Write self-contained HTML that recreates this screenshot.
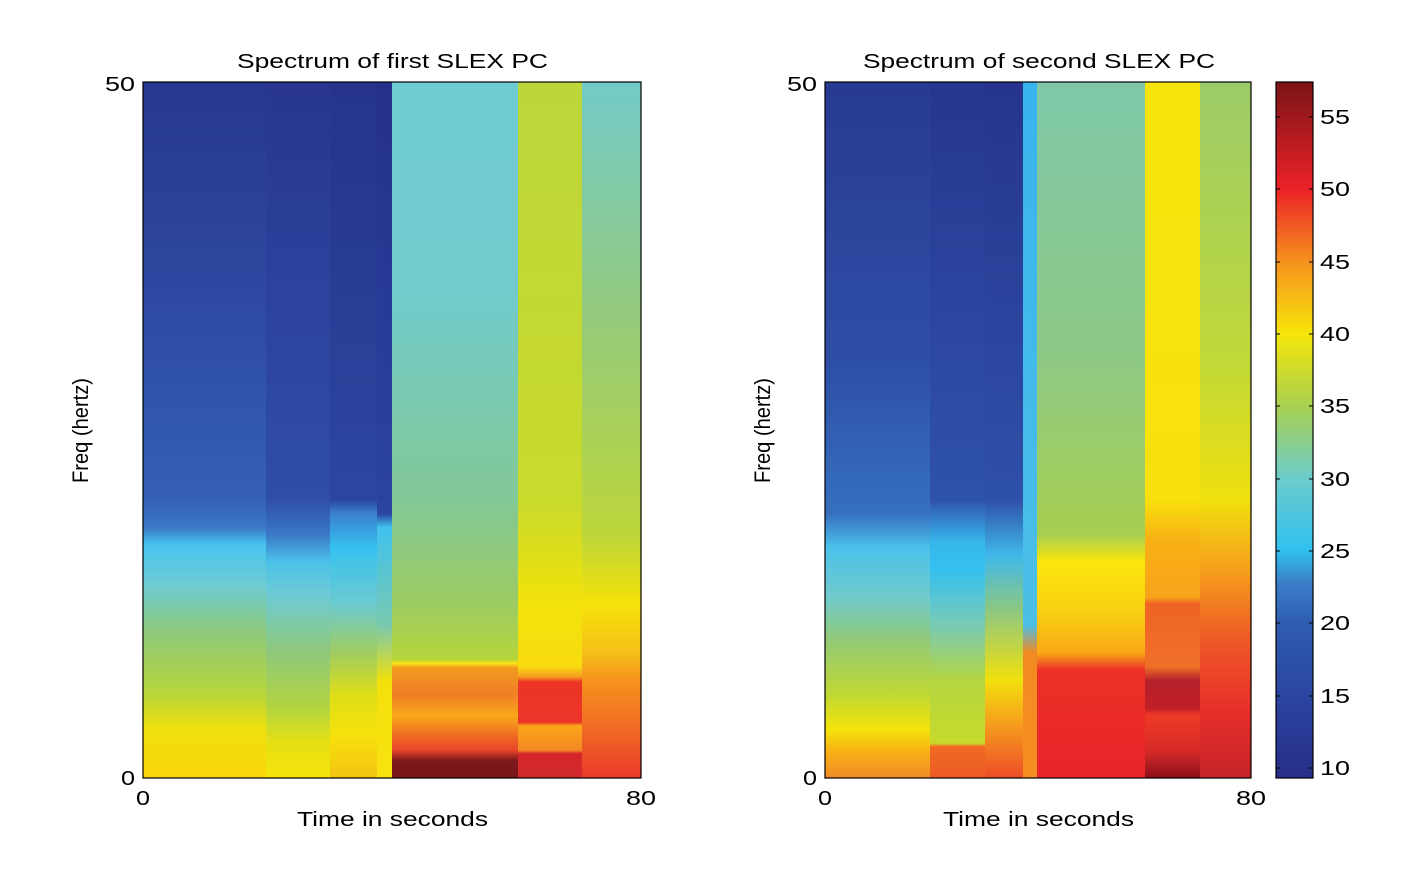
<!DOCTYPE html>
<html><head><meta charset="utf-8"><style>
html,body{margin:0;padding:0;background:#fff;}
svg text{font-family:"Liberation Sans",Arial,sans-serif;fill:#000;}
</style></head><body>
<svg width="1418" height="870" viewBox="0 0 1418 870" xmlns="http://www.w3.org/2000/svg">
<defs>
<linearGradient id="LA" gradientUnits="userSpaceOnUse" x1="0" y1="82" x2="0" y2="778">
<stop offset="0" stop-color="#283890"/><stop offset="0.3" stop-color="#2d48a0"/><stop offset="0.6" stop-color="#3560b4"/>
<stop offset="0.64" stop-color="#3a78c6"/><stop offset="0.665" stop-color="#48c4ee"/><stop offset="0.72" stop-color="#6ccbd6"/>
<stop offset="0.79" stop-color="#8dc97a"/><stop offset="0.88" stop-color="#b8d63a"/><stop offset="0.93" stop-color="#f0e00c"/><stop offset="1" stop-color="#f8d60c"/></linearGradient>
<linearGradient id="LB" gradientUnits="userSpaceOnUse" x1="0" y1="82" x2="0" y2="778">
<stop offset="0" stop-color="#283690"/><stop offset="0.6" stop-color="#2f4ea8"/><stop offset="0.65" stop-color="#3a78c6"/>
<stop offset="0.69" stop-color="#4cc2ea"/><stop offset="0.74" stop-color="#6fcbd2"/><stop offset="0.82" stop-color="#8fc87a"/>
<stop offset="0.9" stop-color="#b4d540"/><stop offset="0.95" stop-color="#e6e014"/><stop offset="1" stop-color="#f6e40a"/></linearGradient>
<linearGradient id="LC" gradientUnits="userSpaceOnUse" x1="0" y1="82" x2="0" y2="778">
<stop offset="0" stop-color="#26348c"/><stop offset="0.6" stop-color="#2c46a0"/><stop offset="0.62" stop-color="#3a80cc"/>
<stop offset="0.67" stop-color="#36c2f0"/><stop offset="0.75" stop-color="#6ccad0"/><stop offset="0.82" stop-color="#a0cc60"/>
<stop offset="0.88" stop-color="#dede18"/><stop offset="0.94" stop-color="#f6e10c"/><stop offset="1" stop-color="#f4c412"/></linearGradient>
<linearGradient id="LD" gradientUnits="userSpaceOnUse" x1="0" y1="82" x2="0" y2="778">
<stop offset="0" stop-color="#24308a"/><stop offset="0.62" stop-color="#2a44a0"/><stop offset="0.64" stop-color="#40c2ee"/>
<stop offset="0.78" stop-color="#78c9b0"/><stop offset="0.86" stop-color="#f2e00c"/><stop offset="1" stop-color="#f8e210"/></linearGradient>
<linearGradient id="LE" gradientUnits="userSpaceOnUse" x1="0" y1="82" x2="0" y2="778">
<stop offset="0" stop-color="#6ecbd2"/><stop offset="0.3" stop-color="#70cbcc"/><stop offset="0.6" stop-color="#82c896"/>
<stop offset="0.75" stop-color="#9ccb62"/><stop offset="0.83" stop-color="#b6d63c"/><stop offset="0.835" stop-color="#fbe414"/>
<stop offset="0.842" stop-color="#f39a20"/><stop offset="0.88" stop-color="#ef7e26"/><stop offset="0.91" stop-color="#f9a91a"/>
<stop offset="0.94" stop-color="#f06a24"/><stop offset="0.96" stop-color="#e8442a"/><stop offset="0.975" stop-color="#7e181a"/><stop offset="1" stop-color="#7a1618"/></linearGradient>
<linearGradient id="LF" gradientUnits="userSpaceOnUse" x1="0" y1="82" x2="0" y2="778">
<stop offset="0" stop-color="#bcd63a"/><stop offset="0.6" stop-color="#c8da2c"/><stop offset="0.75" stop-color="#f2e20a"/>
<stop offset="0.84" stop-color="#f8dc10"/><stop offset="0.855" stop-color="#f39a1e"/><stop offset="0.862" stop-color="#ec3426"/>
<stop offset="0.92" stop-color="#ec3428"/><stop offset="0.925" stop-color="#f9a51a"/><stop offset="0.96" stop-color="#f38a22"/>
<stop offset="0.965" stop-color="#d6262a"/><stop offset="1" stop-color="#d02a2c"/></linearGradient>
<linearGradient id="LG" gradientUnits="userSpaceOnUse" x1="0" y1="82" x2="0" y2="778">
<stop offset="0" stop-color="#72cac8"/><stop offset="0.3" stop-color="#90c984"/><stop offset="0.65" stop-color="#bcd63a"/>
<stop offset="0.75" stop-color="#f6e20a"/><stop offset="0.82" stop-color="#f6c018"/><stop offset="0.86" stop-color="#f6921e"/>
<stop offset="0.93" stop-color="#f06a24"/><stop offset="1" stop-color="#ea3a2a"/></linearGradient>
<linearGradient id="RA" gradientUnits="userSpaceOnUse" x1="0" y1="82" x2="0" y2="778">
<stop offset="0" stop-color="#283a92"/><stop offset="0.4" stop-color="#2e4ea6"/><stop offset="0.62" stop-color="#3670bf"/>
<stop offset="0.67" stop-color="#4cc2ea"/><stop offset="0.74" stop-color="#70cbcc"/><stop offset="0.8" stop-color="#90c978"/>
<stop offset="0.88" stop-color="#c0d834"/><stop offset="0.93" stop-color="#f4e30a"/><stop offset="0.96" stop-color="#f8b414"/><stop offset="1" stop-color="#f08a26"/></linearGradient>
<linearGradient id="RB" gradientUnits="userSpaceOnUse" x1="0" y1="82" x2="0" y2="778">
<stop offset="0" stop-color="#273690"/><stop offset="0.6" stop-color="#2f52aa"/><stop offset="0.66" stop-color="#38b6ec"/>
<stop offset="0.7" stop-color="#34c0f0"/><stop offset="0.78" stop-color="#78cab6"/><stop offset="0.86" stop-color="#b4d640"/>
<stop offset="0.95" stop-color="#c8da2c"/><stop offset="0.955" stop-color="#f06a24"/><stop offset="1" stop-color="#ee5c26"/></linearGradient>
<linearGradient id="RC" gradientUnits="userSpaceOnUse" x1="0" y1="82" x2="0" y2="778">
<stop offset="0" stop-color="#26348e"/><stop offset="0.6" stop-color="#2e50a8"/><stop offset="0.68" stop-color="#40b8ea"/>
<stop offset="0.76" stop-color="#8ec880"/><stop offset="0.86" stop-color="#f2e00c"/><stop offset="0.92" stop-color="#f6a01c"/><stop offset="1" stop-color="#ec4c28"/></linearGradient>
<linearGradient id="RD" gradientUnits="userSpaceOnUse" x1="0" y1="82" x2="0" y2="778">
<stop offset="0" stop-color="#38b4ee"/><stop offset="0.78" stop-color="#4cbfe6"/><stop offset="0.82" stop-color="#f28a22"/><stop offset="1" stop-color="#f58e22"/></linearGradient>
<linearGradient id="RE" gradientUnits="userSpaceOnUse" x1="0" y1="82" x2="0" y2="778">
<stop offset="0" stop-color="#7ec8a8"/><stop offset="0.4" stop-color="#8ec984"/><stop offset="0.65" stop-color="#a6cf50"/>
<stop offset="0.69" stop-color="#fbe60c"/><stop offset="0.76" stop-color="#f8d010"/><stop offset="0.82" stop-color="#f9a816"/>
<stop offset="0.845" stop-color="#ec3026"/><stop offset="1" stop-color="#e8252a"/></linearGradient>
<linearGradient id="RF" gradientUnits="userSpaceOnUse" x1="0" y1="82" x2="0" y2="778">
<stop offset="0" stop-color="#f6e40a"/><stop offset="0.6" stop-color="#f8e00c"/><stop offset="0.66" stop-color="#f8b014"/>
<stop offset="0.74" stop-color="#f7a41a"/><stop offset="0.75" stop-color="#ee6424"/><stop offset="0.84" stop-color="#f07028"/>
<stop offset="0.86" stop-color="#b6202a"/><stop offset="0.9" stop-color="#c02028"/><stop offset="0.91" stop-color="#ee3a26"/>
<stop offset="0.96" stop-color="#d82a28"/><stop offset="1" stop-color="#8c1018"/></linearGradient>
<linearGradient id="RG" gradientUnits="userSpaceOnUse" x1="0" y1="82" x2="0" y2="778">
<stop offset="0" stop-color="#9ccc6a"/><stop offset="0.4" stop-color="#c0d838"/><stop offset="0.6" stop-color="#f0e00e"/>
<stop offset="0.7" stop-color="#f6a01c"/><stop offset="0.8" stop-color="#ee5a26"/><stop offset="0.9" stop-color="#e8302a"/><stop offset="1" stop-color="#c42228"/></linearGradient>
<linearGradient id="CB" x1="0" y1="0" x2="0" y2="1">
<stop offset="0" stop-color="#7a1416"/><stop offset="0.154" stop-color="#ec2227"/><stop offset="0.259" stop-color="#f6921e"/>
<stop offset="0.362" stop-color="#f6e60a"/><stop offset="0.466" stop-color="#a8d050"/><stop offset="0.570" stop-color="#6ccccc"/>
<stop offset="0.674" stop-color="#30c0ef"/><stop offset="0.72" stop-color="#3a7ec8"/><stop offset="0.778" stop-color="#2f5cb0"/>
<stop offset="0.882" stop-color="#2b45a0"/><stop offset="1" stop-color="#262e88"/></linearGradient>
</defs>

<rect x="143" y="82" width="124" height="696" fill="url(#LA)"/>
<rect x="266" y="82" width="65" height="696" fill="url(#LB)"/>
<rect x="330" y="82" width="48" height="696" fill="url(#LC)"/>
<rect x="377" y="82" width="16" height="696" fill="url(#LD)"/>
<rect x="392" y="82" width="127" height="696" fill="url(#LE)"/>
<rect x="518" y="82" width="65" height="696" fill="url(#LF)"/>
<rect x="582" y="82" width="59" height="696" fill="url(#LG)"/>
<rect x="143" y="82" width="498" height="696" fill="none" stroke="#000" stroke-width="1.2"/>
<g font-size="20">
<text x="237" y="68" textLength="311" lengthAdjust="spacingAndGlyphs">Spectrum of first SLEX PC</text>
<text x="105" y="91" textLength="30" lengthAdjust="spacingAndGlyphs">50</text>
<text x="121" y="785" textLength="14" lengthAdjust="spacingAndGlyphs">0</text>
<text x="136" y="805" textLength="14" lengthAdjust="spacingAndGlyphs">0</text>
<text x="626" y="805" textLength="30" lengthAdjust="spacingAndGlyphs">80</text>
<text x="297" y="826" textLength="191" lengthAdjust="spacingAndGlyphs">Time in seconds</text>
</g>
<text transform="translate(88,483) rotate(-90)" font-size="22" textLength="105" lengthAdjust="spacingAndGlyphs">Freq (hertz)</text>

<rect x="825" y="82" width="106" height="696" fill="url(#RA)"/>
<rect x="930" y="82" width="56" height="696" fill="url(#RB)"/>
<rect x="985" y="82" width="39" height="696" fill="url(#RC)"/>
<rect x="1023" y="82" width="15" height="696" fill="url(#RD)"/>
<rect x="1037" y="82" width="109" height="696" fill="url(#RE)"/>
<rect x="1145" y="82" width="56" height="696" fill="url(#RF)"/>
<rect x="1200" y="82" width="51" height="696" fill="url(#RG)"/>
<rect x="825" y="82" width="426" height="696" fill="none" stroke="#000" stroke-width="1.2"/>
<g font-size="20">
<text x="863" y="68" textLength="352" lengthAdjust="spacingAndGlyphs">Spectrum of second SLEX PC</text>
<text x="787" y="91" textLength="30" lengthAdjust="spacingAndGlyphs">50</text>
<text x="803" y="785" textLength="14" lengthAdjust="spacingAndGlyphs">0</text>
<text x="818" y="805" textLength="14" lengthAdjust="spacingAndGlyphs">0</text>
<text x="1236" y="805" textLength="30" lengthAdjust="spacingAndGlyphs">80</text>
<text x="943" y="826" textLength="191" lengthAdjust="spacingAndGlyphs">Time in seconds</text>
</g>
<text transform="translate(770,483) rotate(-90)" font-size="22" textLength="105" lengthAdjust="spacingAndGlyphs">Freq (hertz)</text>

<rect x="1276" y="82" width="37" height="696" fill="url(#CB)" stroke="#000" stroke-width="1.2"/>
<g stroke="#000" stroke-width="1">
<line x1="1276" y1="768" x2="1280" y2="768"/><line x1="1309" y1="768" x2="1313" y2="768"/>
<line x1="1276" y1="696" x2="1280" y2="696"/><line x1="1309" y1="696" x2="1313" y2="696"/>
<line x1="1276" y1="623" x2="1280" y2="623"/><line x1="1309" y1="623" x2="1313" y2="623"/>
<line x1="1276" y1="551" x2="1280" y2="551"/><line x1="1309" y1="551" x2="1313" y2="551"/>
<line x1="1276" y1="479" x2="1280" y2="479"/><line x1="1309" y1="479" x2="1313" y2="479"/>
<line x1="1276" y1="406" x2="1280" y2="406"/><line x1="1309" y1="406" x2="1313" y2="406"/>
<line x1="1276" y1="334" x2="1280" y2="334"/><line x1="1309" y1="334" x2="1313" y2="334"/>
<line x1="1276" y1="262" x2="1280" y2="262"/><line x1="1309" y1="262" x2="1313" y2="262"/>
<line x1="1276" y1="189" x2="1280" y2="189"/><line x1="1309" y1="189" x2="1313" y2="189"/>
<line x1="1276" y1="117" x2="1280" y2="117"/><line x1="1309" y1="117" x2="1313" y2="117"/>
</g>
<g font-size="20">
<text x="1320" y="775" textLength="30" lengthAdjust="spacingAndGlyphs">10</text>
<text x="1320" y="703" textLength="30" lengthAdjust="spacingAndGlyphs">15</text>
<text x="1320" y="630" textLength="30" lengthAdjust="spacingAndGlyphs">20</text>
<text x="1320" y="558" textLength="30" lengthAdjust="spacingAndGlyphs">25</text>
<text x="1320" y="486" textLength="30" lengthAdjust="spacingAndGlyphs">30</text>
<text x="1320" y="413" textLength="30" lengthAdjust="spacingAndGlyphs">35</text>
<text x="1320" y="341" textLength="30" lengthAdjust="spacingAndGlyphs">40</text>
<text x="1320" y="269" textLength="30" lengthAdjust="spacingAndGlyphs">45</text>
<text x="1320" y="196" textLength="30" lengthAdjust="spacingAndGlyphs">50</text>
<text x="1320" y="124" textLength="30" lengthAdjust="spacingAndGlyphs">55</text>
</g>
</svg>
</body></html>
